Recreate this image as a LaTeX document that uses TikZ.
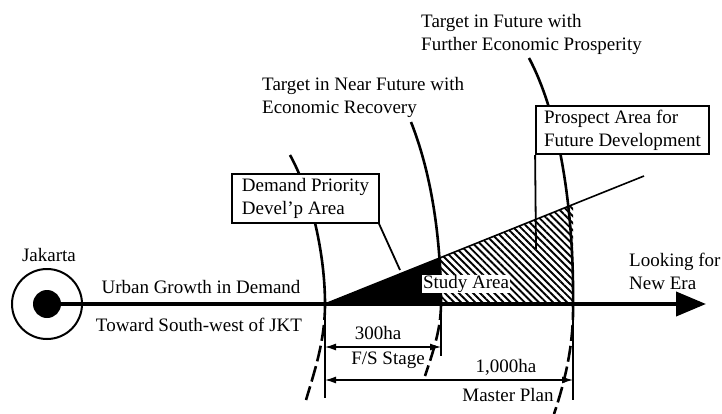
\documentclass[tikz,border=0pt]{standalone}
\usepackage{fontspec}
\setmainfont{Liberation Serif}
\usetikzlibrary{arrows.meta,patterns.meta}
\begin{document}
\begin{tikzpicture}[x=1pt,y=-1pt,
  lbl/.style={font=\fontsize{19}{23}\selectfont, inner sep=0pt},
  boxlbl/.style={lbl, draw, line width=1.8pt, fill=white, align=left, inner xsep=7pt, inner ysep=4pt},
  arcline/.style={line width=2.6pt},
  arcdash/.style={line width=2.6pt, dash pattern=on 16pt off 5pt},
  vline/.style={line width=2pt},
  dimline/.style={line width=1.3pt, {Latex[length=11pt,width=7pt]}-{Latex[length=11pt,width=7pt]}},
]
\useasboundingbox (0,0) rectangle (722,414);
\fill[white] (0,0) rectangle (722,414);

% key coordinates
\coordinate (A) at (325,304);
\coordinate (B) at (441,304);
\coordinate (C) at (573,304);
\coordinate (E) at (706,304);
\coordinate (Bt) at (441,257.4);
\coordinate (Ct) at (573,204.5);
\coordinate (G) at (644,176);

% black and hatched areas
\fill[black] (A) -- (Bt) -- (B) -- cycle;
\fill[pattern={Lines[angle=-45,distance=5pt,line width=1.9pt]}] (B) -- (Bt) -- (Ct) -- (C) -- cycle;
\draw[line width=1.6pt] (A) -- (G);

% Jakarta
\node[circle, draw, line width=2pt, minimum size=70pt, inner sep=0pt] (jak) at (47,304) {};
\node[circle, fill=black, minimum size=28pt, inner sep=0pt] (core) at (jak.center) {};
\draw[line width=4pt, -{Triangle[length=30pt,width=24pt]}] (core.center) -- (E);

% target arcs
\coordinate (a1t) at (290,155);
\coordinate (a1b) at (306,400);
\coordinate (a2t) at (411,122);
\coordinate (a2b) at (425,376);
\coordinate (a3t) at (529,58);
\coordinate (a3b) at (554,414);
\draw[arcline] (a1t) .. controls (312,195) and (325,255) .. (A);
\draw[arcdash] (A) .. controls (325,340) and (315,370) .. (a1b);
\draw[arcline] (a2t) .. controls (432,175) and (441,240) .. (B);
\draw[arcdash] (B) .. controls (441,330) and (432,355) .. (a2b);
\draw[arcline] (a3t) .. controls (562,120) and (574,220) .. (C);
\draw[arcdash] (C) .. controls (574,350) and (562,390) .. (a3b);

% vertical ticks below the axis
\coordinate (Ad) at (325,398);
\coordinate (Bd) at (441,356);
\coordinate (Cd) at (573,400);
\draw[vline] (A) -- (Ad);
\draw[vline] (B) -- (Bd);
\draw[vline] (C) -- (Cd);

% dimensions
\coordinate (d1l) at (325,347);
\coordinate (d1r) at (441,347);
\coordinate (d2l) at (325,380);
\coordinate (d2r) at (573,380);
\draw[dimline] (d1l) -- (d1r);
\draw[dimline] (d2l) -- (d2r);
\node[lbl] (ha300) at (378,333) {300ha};
\node[lbl] (fs) at (388,360) {F/S Stage};
\node[lbl] (ha1000) at (506,367) {1,000ha};
\node[lbl] (mp) at (508,395) {Master Plan};

% boxes
\node[boxlbl, minimum width=147pt, minimum height=47pt] (dem) at (305.5,198.5) {Demand Priority\\Devel'p Area};
\node[boxlbl, minimum width=173pt, minimum height=46pt] (pro) at (622.5,130) {Prospect Area for\\Future Development};
\coordinate (demp) at (400,270);
\coordinate (prop) at (536,249);
\draw[line width=1.8pt] ([xshift=-1pt]dem.south east) -- (demp);
\draw[line width=1.8pt] (pro.south west) -- (prop);

% labels
\node[lbl, align=left, anchor=west] (tff) at (421,34.5) {Target in Future with\\Further Economic Prosperity};
\node[lbl, align=left, anchor=west] (tnf) at (262,97) {Target in Near Future with\\Economic Recovery};
\node[lbl] (jkt) at (49,255) {Jakarta};
\node[lbl] (ugd) at (201,287) {Urban Growth in Demand};
\node[lbl] (tsw) at (199,325) {Toward South-west of JKT};
\node[lbl, align=left, anchor=west] (lfn) at (629,271) {Looking for\\New Era};
\node[lbl, fill=white, inner xsep=1pt, inner ysep=0pt] (study) at (466,284) {Study Area};
\end{tikzpicture}
\end{document}
